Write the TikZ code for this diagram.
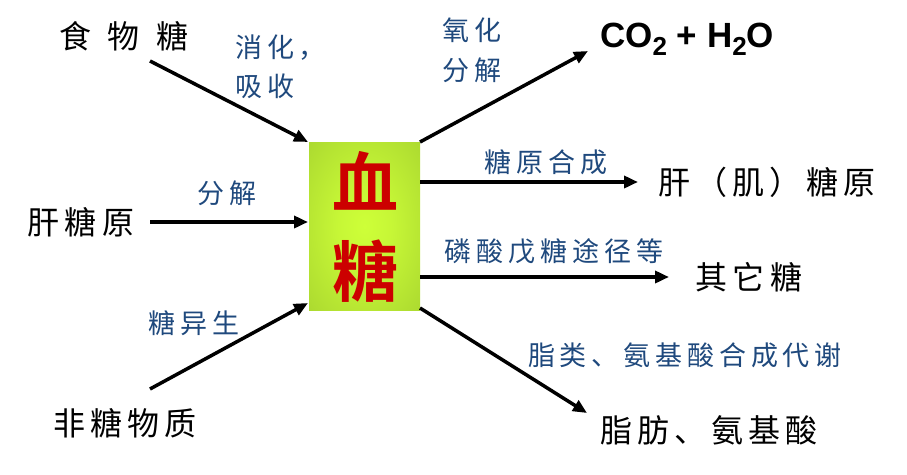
\documentclass[tikz,border=0pt]{standalone}
\usepackage{fontspec}
\usetikzlibrary{arrows.meta}
\newfontfamily\lblfont{Noto Sans CJK SC}[LetterSpace=18]
\newfontfamily\blkfont{Noto Sans CJK SC}[LetterSpace=16]
\newfontfamily\widefont{Noto Sans CJK SC}[LetterSpace=52]
\newfontfamily\bigfont{Noto Sans CJK SC Bold}
\newfontfamily\latinbold{Liberation Sans Bold}
\definecolor{lblue}{RGB}{31,73,125}
\definecolor{bxred}{RGB}{204,0,0}
\definecolor{bxin}{RGB}{206,255,56}
\definecolor{bxout}{RGB}{156,200,44}
\pgfdeclareradialshading{boxshade}{\pgfpoint{0bp}{0bp}}{color(0bp)=(bxin); color(12bp)=(bxin!85!bxout); color(50bp)=(bxout); color(72bp)=(bxout)}
\tikzset{
  lbl/.style={inner sep=0pt, text=lblue, font=\lblfont\fontsize{27}{30}\selectfont},
  blk/.style={inner sep=0pt, text=black, font=\blkfont\fontsize{32}{35}\selectfont},
  arr/.style={line width=3.5pt, -{Triangle[length=14pt,width=12pt]}},
  bigch/.style={inner sep=0pt, text=bxred, font=\bigfont\fontsize{66}{70}\selectfont}
}
\begin{document}
\begin{tikzpicture}[x=1pt,y=-1pt]
\useasboundingbox (0,0) rectangle (907,474);
% central box
\node[draw=none, shading=boxshade, minimum width=111pt, minimum height=168pt, inner sep=0pt] (box) at (364.5,226) {};
\node[bigch] (xue) at (365,181) {血};
\node[bigch] (tang) at (365,271) {糖};
% left texts
\node[inner sep=0pt, font=\widefont\fontsize{32}{35}\selectfont] (food) at (124,36) {食物糖};
\node[lbl, anchor=west] (xh) at (235,48) {消化，};
\node[lbl, anchor=west] (xs) at (235,86) {吸收};
\node[blk] (gty) at (81,222) {肝糖原};
\node[lbl] (fj1) at (227,193) {分解};
\node[lbl] (tys) at (194,323) {糖异生};
\node[blk] (ftwz) at (125,423) {非糖物质};
% right texts
\node[lbl, anchor=west] (yh) at (442,30) {氧化};
\node[lbl, anchor=west] (fj2) at (442,70) {分解};
\node[anchor=base west, inner sep=0pt, font=\latinbold\fontsize{35}{38}\selectfont] (co2) at (600,47)
  {CO\raisebox{-8pt}{\fontsize{26}{28}\selectfont 2} + H\raisebox{-8pt}{\fontsize{26}{28}\selectfont 2}O};
\node[lbl] (tyhc) at (546,162) {糖原合成};
\node[blk] (gjty) at (767,182) {肝（肌）糖原};
\node[lbl] (lstj) at (554,251) {磷酸戊糖途径等};
\node[blk] (qtt) at (749,277) {其它糖};
\node[lbl] (zl) at (685,355) {脂类、氨基酸合成代谢};
\node[blk] (zf) at (709,430) {脂肪、氨基酸};
% arrow end points
\coordinate (a1s) at (150,61);  \coordinate (a1e) at (308,142);
\coordinate (a2s) at (150,222); \coordinate (a2e) at (308,222);
\coordinate (a3s) at (150,389); \coordinate (a3e) at (308,303);
\coordinate (a4s) at (420,142); \coordinate (a4e) at (588,51);
\coordinate (a5s) at (420,182); \coordinate (a5e) at (638,182);
\coordinate (a6s) at (420,277); \coordinate (a6e) at (669,277);
\coordinate (a7s) at (420,308); \coordinate (a7e) at (587,413);
\draw[arr] (a1s) -- (a1e);
\draw[arr] (a2s) -- (a2e);
\draw[arr] (a3s) -- (a3e);
\draw[arr] (a4s) -- (a4e);
\draw[arr] (a5s) -- (a5e);
\draw[arr] (a6s) -- (a6e);
\draw[arr] (a7s) -- (a7e);
\end{tikzpicture}
\end{document}
